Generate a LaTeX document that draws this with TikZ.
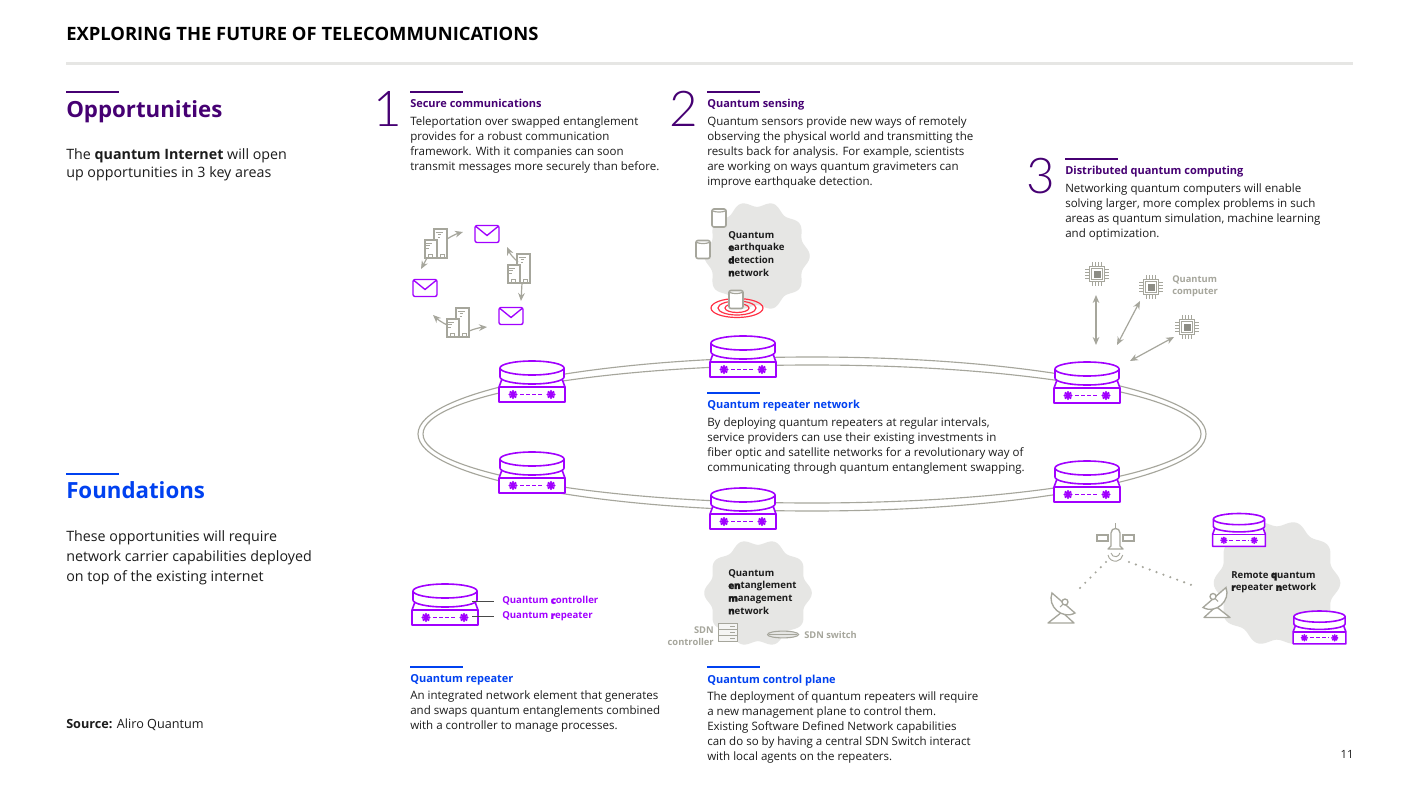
\documentclass[tikz,border=0pt]{standalone}
\usepackage{fontspec}
\setmainfont{Open Sans}
\newfontfamily\lightfont[UprightFont={* Light}]{Lato}
\newfontfamily\blobfont[FakeBold=2.5]{Open Sans Bold}
\usetikzlibrary{arrows.meta,calc}
\definecolor{dpurple}{HTML}{460073}
\definecolor{ablue}{HTML}{0041F0}
\definecolor{apurple}{HTML}{A100FF}
\definecolor{agray}{HTML}{A6A69C}
\definecolor{lgray}{HTML}{E6E6E4}
\definecolor{ink}{HTML}{1C1C1C}
\definecolor{ared}{HTML}{FF3246}
\newcommand{\blob}[1]{{\blobfont #1}}
\newcommand{\cloudshape}[4]{plot[domain=0:360,samples=180,smooth] ({#1+#3*(1+0.055*cos(10*\x))*cos(\x)},{#2+#4*(1+0.055*cos(10*\x))*sin(\x)}) -- cycle}
\tikzset{
  body/.style={anchor=north west,inner sep=0pt,align=left,text=ink,font=\fontsize{8.65}{11.25}\selectfont},
  head/.style={anchor=base west,inner sep=0pt,font=\fontsize{8.25}{10}\selectfont\bfseries},
  bighead/.style={anchor=base west,inner sep=0pt,font=\fontsize{16.7}{20}\selectfont\bfseries},
  big/.style={anchor=north west,inner sep=0pt,align=left,text=ink,font=\fontsize{10.7}{#1}\selectfont},
  numeral/.style={anchor=center,inner sep=0pt,text=dpurple,font=\fontsize{37}{40}\selectfont\lightfont},
  dark/.style={anchor=north west,inner sep=0pt,align=left,text=ink,font=\fontsize{7.2}{9.5}\selectfont\bfseries},
  graylab/.style={inner sep=0pt,align=left,text=agray,font=\fontsize{7}{9.4}\selectfont\bfseries},
  purplelab/.style={anchor=west,inner sep=0pt,text=apurple,font=\fontsize{7.2}{9}\selectfont\bfseries},
  prule/.style={line width=1.5pt,dpurple},
  brule/.style={line width=1.5pt,ablue},
  ring/.style={agray,line width=0.85pt},
  icon/.style={agray,line width=1pt,fill=white},
  darrow/.style={agray,line width=0.9pt,{Stealth[length=6pt,width=5pt]}-{Stealth[length=6pt,width=5pt]}},
  sarrow/.style={agray,line width=0.9pt,-{Stealth[length=6pt,width=5pt]}},
  repeater/.pic={
    \begin{scope}[line join=round]
      \filldraw[apurple,fill=white,line width=1.2pt] (-30,18) -- (-33,26) -- (-33,41) -- (33,41) -- (33,26) -- (30,18) -- cycle;
      \draw[apurple,line width=1.2pt] (-33,26) -- (33,26);
      \filldraw[apurple,fill=white,line width=1.2pt] (-32,7) -- (-32,16) arc[start angle=180,end angle=0,x radius=32,y radius=7] -- (32,7) arc[start angle=0,end angle=-180,x radius=32,y radius=7] -- cycle;
      \draw[apurple,line width=1.2pt] (-32,7) arc[start angle=180,end angle=0,x radius=32,y radius=7];
      \foreach \s in {-19,19} {
        \fill[apurple] (\s,33.5) circle[radius=3];
        \foreach \a in {0,45,...,315} \fill[apurple] (\s,33.5) ++(\a:3.4) circle[radius=1.3];
      }
      \draw[apurple,dash pattern=on 3pt off 1.6pt,line width=0.9pt] (-12,33.5) -- (12,33.5);
    \end{scope}
  },
  mail/.pic={
    \draw[apurple,line width=1pt,rounded corners=1.5pt,fill=white] (-12,-8.5) rectangle (12,8.5);
    \draw[apurple,line width=1pt] (-11,-7.5) -- (0,1.5) -- (11,-7.5);
  },
  towers/.pic={
    \draw[icon] (9,-29) rectangle (22,0);
    \draw[icon] (0,-18) rectangle (12,0);
    \draw[agray,line width=0.6pt] (10.5,-26) -- (18,-26) (12.5,-23.5) -- (16,-23.5) (12.5,-21) -- (15,-21)
      (1,-15) -- (7,-15) (1,-12.5) -- (5,-12.5) (1,-10) -- (4,-10)
      (3.5,0) -- (3.5,-3.5) -- (7.5,-3.5) -- (7.5,0) (15.5,0) -- (15.5,-3.5) -- (19.5,-3.5) -- (19.5,0);
  },
  chip/.pic={
    \foreach \d in {-4.5,-1.5,1.5,4.5} {
      \draw[agray,line width=0.65pt] (\d,-12) -- (\d,12) (-12,\d) -- (12,\d);
    }
    \draw[icon] (-7.5,-7.5) rectangle (7.5,7.5);
    \draw[agray,line width=0.5pt,fill=white] (-5.5,-5.5) rectangle (5.5,5.5);
    \fill[agray!85!black] (-3.5,-3.5) rectangle (3.5,3.5);
  },
  can/.pic={
    \draw[agray,line width=1.2pt,fill=white,rounded corners=1.5pt] (-7,-8.5) rectangle (7,9.5);
    \draw[agray,line width=0.9pt] (-7,-7.5) arc[start angle=180,end angle=0,x radius=7,y radius=2];
  },
  dish/.pic={
    \draw[agray,line width=1pt,fill=white,line join=round] (-12,15) -- (2,4) -- (14,15) -- cycle;
    \draw[agray,line width=1pt,fill=white] (-8,-15) .. controls (-13,-2) and (2,12) .. (15,5) -- cycle;
    \draw[agray,line width=1pt,fill=white] (5,-6) circle[radius=3];
    \draw[agray,line width=0.8pt] (3,-4) -- (0,-1);
  },
}
\begin{document}
\begin{tikzpicture}[x=0.75pt,y=-0.75pt]
\useasboundingbox (0,0) rectangle (1406,788);
\fill[white] (0,0) rectangle (1406,788);
% header
\node[anchor=base west,inner sep=0pt,text=black,font=\fontsize{13.8}{16}\selectfont\bfseries] (title) at (66,40.5) {EXPLORING THE FUTURE OF TELECOMMUNICATIONS};
\draw[lgray,line width=2pt] (66,63.5) -- (1353,63.5);
% left column
\draw[prule] (66,92.5) -- (119,92.5);
\node[bighead,text=dpurple] (opp) at (66,118) {Opportunities};
\node[big=13.5] (opptext) at (66,148) {The \textbf{quantum Internet} will open\\up opportunities in 3 key areas};
\draw[brule] (66,473.5) -- (119,473.5);
\node[bighead,text=ablue] (found) at (66,498.5) {Foundations};
\node[big=15] (foundtext) at (66,530) {These opportunities will require\\network carrier capabilities deployed\\on top of the existing internet};
\node[anchor=west,inner sep=0pt,text=ink,font=\fontsize{9.5}{11}\selectfont] (source) at (66,725) {\textbf{Source:} Aliro Quantum};
\node[anchor=center,inner sep=0pt,text=ink,font=\fontsize{8.5}{10}\selectfont] (pageno) at (1347,754) {11};
% numerals
\node[numeral] (n1) at (388,109) {1};
\node[numeral] (n2) at (684,109) {2};
\node[numeral] (n3) at (1041,176) {3};
% text blocks
\draw[prule] (410,92.5) -- (463,92.5);
\node[head,text=dpurple] (h1) at (410,108) {Secure communications};
\node[body] (b1) at (410,116.5) {Teleportation over swapped entanglement\\provides for a robust communication\\framework. With it companies can soon\\transmit messages more securely than before.};
\draw[prule] (707,92.5) -- (760,92.5);
\node[head,text=dpurple] (h2) at (707,108) {Quantum sensing};
\node[body] (b2) at (707,116.5) {Quantum sensors provide new ways of remotely\\observing the physical world and transmitting the\\results back for analysis. For example, scientists\\are working on ways quantum gravimeters can\\improve earthquake detection.};
\draw[prule] (1065,159.5) -- (1118,159.5);
\node[head,text=dpurple] (h3) at (1065,175) {Distributed quantum computing};
\node[body] (b3) at (1065,183.5) {Networking quantum computers will enable\\solving larger, more complex problems in such\\areas as quantum simulation, machine learning\\and optimization.};
\draw[brule] (707,392.5) -- (760,392.5);
\node[head,text=ablue] (h4) at (707,408) {Quantum repeater network};
\node[body] (b4) at (707,417.5) {By deploying quantum repeaters at regular intervals,\\service providers can use their existing investments in\\fiber optic and satellite networks for a revolutionary way of\\communicating through quantum entanglement swapping.};
\draw[brule] (410,666.5) -- (463,666.5);
\node[head,text=ablue] (h5) at (410,682) {Quantum repeater};
\node[body] (b5) at (410,690.5) {An integrated network element that generates\\and swaps quantum entanglements combined\\with a controller to manage processes.};
\draw[brule] (707,666.5) -- (760,666.5);
\node[head,text=ablue] (h6) at (707,683) {Quantum control plane};
\node[body] (b6) at (707,691.5) {The deployment of quantum repeaters will require\\a new management plane to control them.\\Existing Software Defined Network capabilities\\can do so by having a central SDN Switch interact\\with local agents on the repeaters.};
% ring
\draw[ring] (812,434) ellipse[x radius=394,y radius=77];
\draw[ring] (812,434) ellipse[x radius=389,y radius=69];
% clouds
\fill[lgray] \cloudshape{757}{256}{50}{52};
\fill[lgray] \cloudshape{758}{593}{51}{51};
\fill[lgray] \cloudshape{1277}{583}{60}{60};
\node[dark] (eq) at (728,231) {Quantum\\\blob{e}arthquake\\\blob{d}etection\\\blob{n}etwork};
\node[dark] (em) at (728,569) {Quantum\\\blob{en}tanglement\\\blob{m}anagement\\\blob{n}etwork};
\node[dark] (rq) at (1231,571) {Remote \blob{q}uantum\\\blob{r}epeater \blob{n}etwork};
% repeaters
\pic at (532,361) {repeater};
\pic at (743,336) {repeater};
\pic at (1087,362) {repeater};
\pic at (532,452) {repeater};
\pic at (743,488) {repeater};
\pic at (1087,461) {repeater};
\pic at (445,584) {repeater};
\pic[scale=0.8] at (1239,513.5) {repeater};
\pic[scale=0.8] at (1319.5,611) {repeater};
% legend
\node[purplelab] (lc) at (502,601) {Quantum \blob{c}ontroller};
\node[purplelab] (lr) at (502,616.5) {Quantum \blob{r}epeater};
\coordinate (lca) at (472,601);
\coordinate (lra) at (472,616.5);
\draw[ink!80,line width=0.7pt] (lca) -- ($(lc.west)+(-8,0)$);
\draw[ink!80,line width=0.7pt] (lra) -- ($(lr.west)+(-8,0)$);
% mails and towers
\pic at (487,234) {mail};
\pic at (425,288) {mail};
\pic at (511,316) {mail};
\pic at (425,258) {towers};
\pic at (508,283) {towers};
\pic at (447,337) {towers};
\coordinate (t1a) at (447,239); \coordinate (t1b) at (463,232);
\coordinate (t1c) at (427,258); \coordinate (t1d) at (421,269);
\coordinate (t2a) at (518,262); \coordinate (t2b) at (507,247);
\coordinate (t2c) at (522,283); \coordinate (t2d) at (521,301);
\coordinate (t3a) at (447,325); \coordinate (t3b) at (433,315);
\coordinate (t3c) at (469,331); \coordinate (t3d) at (487,327);
\draw[sarrow] (t1a) to[bend left=8] (t1b);
\draw[sarrow] (t1c) -- (t1d);
\draw[sarrow] (t2a) to[bend left=12] (t2b);
\draw[sarrow] (t2c) -- (t2d);
\draw[sarrow] (t3a) to[bend left=8] (t3b);
\draw[sarrow] (t3c) to[bend left=8] (t3d);
% earthquake
\foreach \r/\ry in {26/9.5,19/7,12/4.5} \draw[ared,line width=0.9pt] (737,308) ellipse[x radius=\r,y radius=\ry];
\pic at (719,217.5) {can};
\pic at (703,249) {can};
\pic at (736,299) {can};
% chips
\pic at (1097,274) {chip};
\pic at (1151,287) {chip};
\pic at (1187,327) {chip};
\node[graylab,anchor=north west] (qc) at (1172,275) {Quantum\\computer};
\coordinate (c1a) at (1096,295); \coordinate (c1b) at (1096,345);
\coordinate (c2a) at (1140,301); \coordinate (c2b) at (1117,345);
\coordinate (c3a) at (1174,337); \coordinate (c3b) at (1130,361);
\draw[darrow] (c1a) -- (c1b);
\draw[darrow] (c2a) -- (c2b);
\draw[darrow] (c3a) -- (c3b);
% SDN
\node[graylab,anchor=north east,align=right] (sdnc) at (714,626) {SDN\\controller};
\draw[agray,line width=0.7pt,fill=lgray!40] (718.5,623) rectangle (737,641);
\draw[agray,line width=0.6pt] (718.5,629) -- (737,629) (718.5,635) -- (737,635) (730,626) -- (735,626) (730,632) -- (735,632) (730,638) -- (735,638);
\draw[agray,line width=0.8pt,fill=lgray] (767.5,634.5) .. controls (768,630) and (798,630) .. (798.5,634.5) .. controls (798,639) and (768,639) .. (767.5,634.5) -- cycle;
\draw[agray,line width=0.6pt] (769,634.5) -- (797,634.5);
\node[graylab,anchor=west] (sdns) at (804,635) {SDN switch};
% satellite
\draw[agray,line width=1pt,fill=white] (1097,535) rectangle (1108,541);
\draw[agray,line width=1pt,fill=white] (1123,535) rectangle (1134,541);
\draw[agray,line width=1pt,fill=white,line join=round] (1111,546) -- (1111,533) .. controls (1111,527) and (1120,527) .. (1120,533) -- (1120,546) -- (1123,549) -- (1108,549) -- cycle;
\draw[agray,line width=0.8pt] (1115.5,528) -- (1115.5,523);
\draw[agray,line width=0.7pt] (1111,553) arc[start angle=170,end angle=10,radius=4.5];
\draw[agray,line width=0.7pt] (1108,555) arc[start angle=170,end angle=10,radius=7.5];
\pic at (1060,608) {dish};
\pic[xscale=-1] at (1218,602.5) {dish};
\coordinate (s1) at (1106,562); \coordinate (s2) at (1079,589);
\coordinate (s3) at (1129,562); \coordinate (s4) at (1197,587);
\draw[agray,line width=1.8pt,line cap=round,dash pattern=on 0pt off 5.5pt] (s1) -- (s2);
\draw[agray,line width=1.8pt,line cap=round,dash pattern=on 0pt off 5.5pt] (s3) -- (s4);
\end{tikzpicture}
\end{document}
